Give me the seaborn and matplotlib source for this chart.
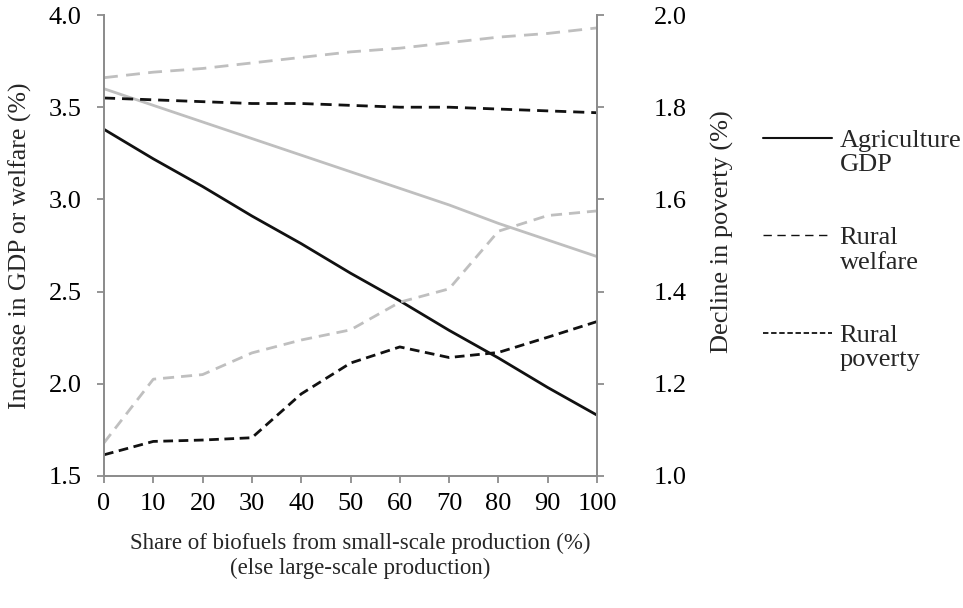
import numpy as np
import pandas as pd
import matplotlib
matplotlib.use("Agg")
import matplotlib.pyplot as plt
from matplotlib.lines import Line2D
from matplotlib.legend_handler import HandlerLine2D
import seaborn as sns

share = [0, 10, 20, 30, 40, 50, 60, 70, 80, 90, 100]

# left axis: increase in GDP or welfare (%)
gdp_black = [3.38, 3.22, 3.07, 2.91, 2.76, 2.60, 2.45, 2.29, 2.14, 1.98, 1.83]
gdp_gray = [3.60, 3.51, 3.42, 3.33, 3.24, 3.15, 3.06, 2.97, 2.87, 2.78, 2.69]
welfare_black = [3.55, 3.54, 3.53, 3.52, 3.52, 3.51, 3.50, 3.50, 3.49, 3.48, 3.47]
welfare_gray = [3.66, 3.69, 3.71, 3.74, 3.77, 3.80, 3.82, 3.85, 3.88, 3.90, 3.93]

# right axis: decline in poverty (%)
poverty_black = [1.046, 1.075, 1.078, 1.083, 1.178, 1.245, 1.280, 1.257, 1.268, 1.301, 1.335]
poverty_gray = [1.072, 1.210, 1.220, 1.267, 1.295, 1.317, 1.377, 1.406, 1.531, 1.565, 1.575]

left_ticks = [1.5, 2.0, 2.5, 3.0, 3.5, 4.0]
right_ticks = [1.0, 1.2, 1.4, 1.6, 1.8, 2.0]

sns.set_style("white")
plt.rcParams['font.family'] = ['Liberation Serif', 'DejaVu Serif']
plt.rcParams['font.size'] = 19

BLACK = "#111111"
GRAY = "#bfbfbf"
SPINE = "#8c8c8c"
FS = 19


class TopLine(HandlerLine2D):
    # put the legend line level with the first line of a two-line label
    def create_artists(self, legend, orig_handle, xdescent, ydescent,
                       width, height, fontsize, trans):
        arts = super().create_artists(legend, orig_handle, xdescent, ydescent,
                                      width, height, fontsize, trans)
        for a in arts:
            a.set_ydata(np.asarray(a.get_ydata()) + 0.55 * fontsize)
        return arts


fig = plt.figure(figsize=(9.63, 6.08), dpi=100)
ax = fig.add_axes([104 / 963, 1 - 476 / 608, 493 / 963, 461 / 608])
ax2 = ax.twinx()

sns.lineplot(x=share, y=welfare_gray, ax=ax, color=GRAY, lw=2)
ax.lines[-1].set_dashes([5, 3])
sns.lineplot(x=share, y=gdp_gray, ax=ax, color=GRAY, lw=2)
sns.lineplot(x=share, y=welfare_black, ax=ax, color=BLACK, lw=2)
ax.lines[-1].set_dashes([4, 2.5])
sns.lineplot(x=share, y=gdp_black, ax=ax, color=BLACK, lw=2)

sns.lineplot(x=share, y=poverty_gray, ax=ax2, color=GRAY, lw=2)
ax2.lines[-1].set_dashes([4, 2.5])
sns.lineplot(x=share, y=poverty_black, ax=ax2, color=BLACK, lw=2)
ax2.lines[-1].set_dashes([3.5, 2])

ax.set_xlim(0, 100)
ax.set_ylim(1.5, 4.0)
ax2.set_ylim(1.0, 2.0)
ax.set_xticks(share)
ax.set_yticks(left_ticks)
ax.set_yticklabels([f"{v:.1f}" for v in left_ticks])
ax2.set_yticks(right_ticks)
ax2.set_yticklabels([f"{v:.1f}" for v in right_ticks])

for a in (ax, ax2):
    a.spines["top"].set_visible(False)
    for side in ("left", "right", "bottom"):
        a.spines[side].set_color(SPINE)
        a.spines[side].set_linewidth(1.3)
    a.tick_params(axis="both", direction="out", length=5, width=1.3,
                  color=SPINE, labelcolor="black", labelsize=FS)
ax.tick_params(axis="y", left=True, right=False, pad=11)
ax.tick_params(axis="x", bottom=True, pad=7)
ax2.tick_params(axis="y", right=True, left=False, pad=36)

ax.set_xlabel("Share of biofuels from small-scale production (%)\n(else large-scale production)",
              fontsize=16.5, labelpad=13, linespacing=1.25)
ax.xaxis.label.set_x(0.52)
ax.set_ylabel("Increase in GDP or welfare (%)", fontsize=18.5, labelpad=12)
ax2.set_ylabel("Decline in poverty (%)", fontsize=FS, labelpad=17)
ax2.yaxis.label.set_y(0.53)

handles = [
    Line2D([], [], color=BLACK, lw=1.5),
    Line2D([], [], color=BLACK, lw=1, dashes=[6, 4]),
    Line2D([], [], color=BLACK, lw=1.3, dashes=[3, 1.5]),
]
labels = ["Agriculture\nGDP", "Rural\nwelfare", "Rural\npoverty"]
leg = fig.legend(handles, labels, loc="upper left", bbox_to_anchor=(763 / 963, 1 - 130 / 608),
                 frameon=False, fontsize=FS, handlelength=2.6, handletextpad=0.3,
                 labelspacing=1.95, borderpad=0, borderaxespad=0,
                 handler_map={Line2D: TopLine()})
for t in leg.get_texts():
    t.set_linespacing(1.12)

fig.savefig("out.png", dpi=100)
